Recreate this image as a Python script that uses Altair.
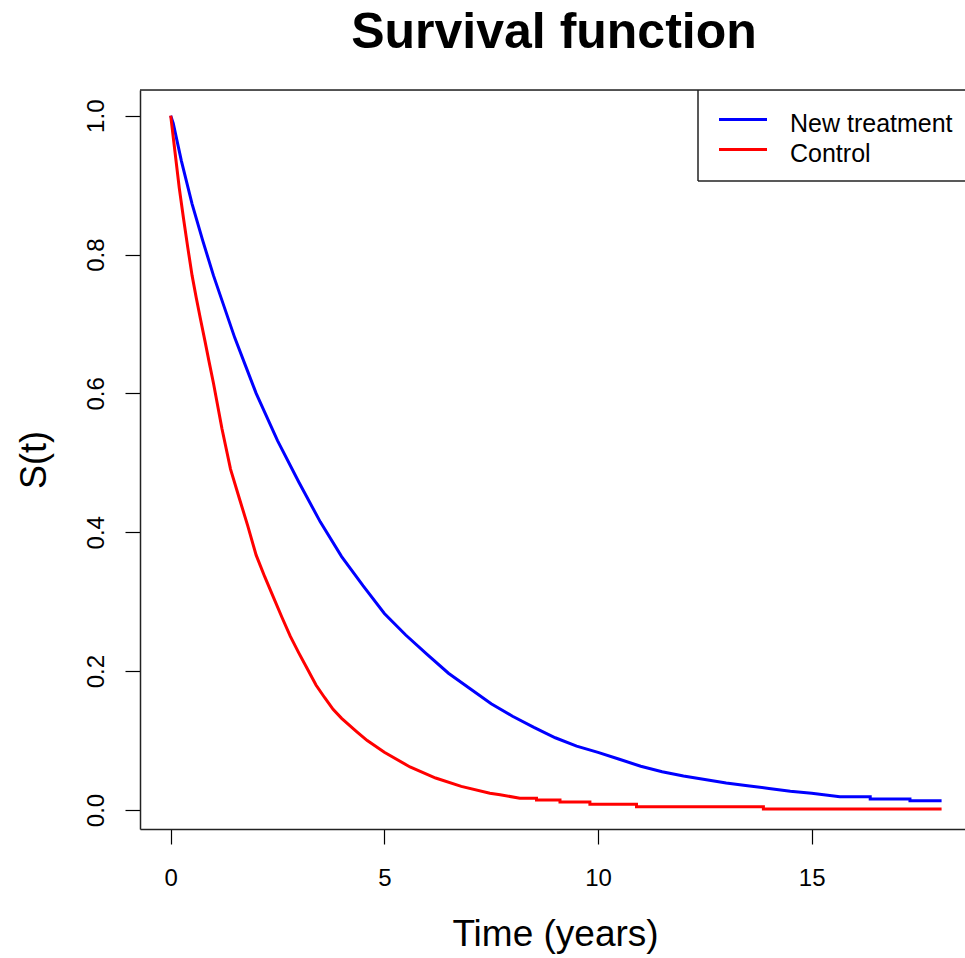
import altair as alt
import pandas as pd

# ---- data ----
series_names = ["New treatment", "Control"]
series_colors = ["#0000FF", "#FF0000"]
title_text = "Survival function"

t_new = [0, 0.06, 0.25, 0.5, 0.75, 1.0, 1.25, 1.5, 1.75, 2.0, 2.5, 3.0, 3.5, 4.0, 4.5,
         5.0, 5.5, 6.0, 6.5, 7.0, 7.5, 8.0, 8.5, 9.0, 9.5, 10.0, 10.5, 11.0, 11.5,
         12.0, 12.5, 13.0, 13.5, 14.0, 14.5, 15.0, 15.66, 16.37, 16.37, 17.3, 17.3, 18.04]
s_new = [1.0, 0.989, 0.935, 0.873, 0.82, 0.77, 0.725, 0.68, 0.64, 0.60, 0.532, 0.472, 0.415, 0.365, 0.323,
         0.283, 0.252, 0.224, 0.197, 0.175, 0.153, 0.135, 0.119, 0.104, 0.092, 0.083, 0.073, 0.063, 0.055,
         0.049, 0.044, 0.039, 0.035, 0.031, 0.027, 0.024, 0.019, 0.019, 0.0158, 0.0158, 0.0134, 0.0134]

t_ctl = [0, 0.1, 0.2, 0.3, 0.4, 0.5, 0.6, 0.7, 0.8, 0.9, 1.0, 1.2, 1.4, 1.6, 1.8, 2.0,
         2.2, 2.4, 2.6, 2.8, 3.0, 3.2, 3.4, 3.6, 3.8, 4.0, 4.35, 4.6, 5.0, 5.6, 6.2, 6.8,
         7.47, 7.71, 8.17, 8.56, 8.56, 9.11, 9.11, 9.81, 9.81, 10.9, 10.9, 13.87, 13.87, 18.04]
s_ctl = [1.0, 0.948, 0.896, 0.852, 0.81, 0.77, 0.737, 0.706, 0.676, 0.645, 0.615, 0.549, 0.491, 0.45, 0.41, 0.367,
         0.336, 0.307, 0.278, 0.25, 0.226, 0.203, 0.18, 0.162, 0.145, 0.132, 0.113, 0.10, 0.083, 0.062, 0.046, 0.034,
         0.024, 0.022, 0.0168, 0.0168, 0.0144, 0.0144, 0.0115, 0.0115, 0.0082, 0.0082, 0.0048, 0.0048, 0.0014, 0.0014]

x_ticks = [0, 5, 10, 15]
y_ticks = [0.0, 0.2, 0.4, 0.6, 0.8, 1.0]

rows = []
for name, ts, ss in [(series_names[0], t_new, s_new), (series_names[1], t_ctl, s_ctl)]:
    for i, (t, s) in enumerate(zip(ts, ss)):
        rows.append({"series": name, "t": t, "s": s, "i": i})
df = pd.DataFrame(rows)

# ---- layout ----
W, H = 825, 739
FONT = "Liberation Sans"
x_domain = [-0.7184, 18.588]
y_domain = [-0.0274, 1.037]
color_scale = alt.Scale(domain=series_names, range=series_colors)

lines = alt.Chart(df).mark_line(strokeWidth=3, clip=True).encode(
    x=alt.X("t:Q", scale=alt.Scale(domain=x_domain, nice=False, zero=False),
            axis=alt.Axis(values=x_ticks, title="Time (years)", grid=False,
                          tickSize=15, tickColor="black", tickWidth=1.2,
                          domainColor="#222222", domainWidth=1.5,
                          labelFont=FONT, labelFontSize=24, labelColor="black",
                          labelBaseline="alphabetic", labelPadding=41,
                          labelFlush=False, labelOverlap=False,
                          titleFont=FONT, titleFontSize=37, titleFontWeight="normal",
                          titleColor="black", titleX=415, titleY=116,
                          titleAlign="center", titleBaseline="alphabetic")),
    y=alt.Y("s:Q", scale=alt.Scale(domain=y_domain, nice=False, zero=False),
            axis=alt.Axis(values=y_ticks, format=".1f", title="S(t)", grid=False,
                          tickSize=15, tickColor="black", tickWidth=1.2,
                          domainColor="#222222", domainWidth=1.5,
                          labelFont=FONT, labelFontSize=24, labelColor="black",
                          labelAngle=270, labelAlign="center", labelBaseline="alphabetic",
                          labelPadding=22, labelFlush=False, labelOverlap=False,
                          titleFont=FONT, titleFontSize=36, titleFontWeight="normal",
                          titleColor="black", titleAngle=270, titleX=-95, titleY=369.5,
                          titleAlign="center", titleBaseline="alphabetic")),
    color=alt.Color("series:N", scale=color_scale, legend=None),
    order="i:Q",
)

one = pd.DataFrame({"k": [0]})
frame_top = alt.Chart(one).mark_rule(color="#222222", strokeWidth=1.5).encode(
    x=alt.value(0), x2=alt.value(W), y=alt.value(0))
leg_left = alt.Chart(one).mark_rule(color="#222222", strokeWidth=1.5).encode(
    x=alt.value(558), y=alt.value(0), y2=alt.value(91))
leg_bottom = alt.Chart(one).mark_rule(color="#222222", strokeWidth=1.5).encode(
    x=alt.value(558), x2=alt.value(W), y=alt.value(91))

# main title as a text mark placed above the plot frame
title_mark = alt.Chart(pd.DataFrame({"title": [title_text]})).mark_text(
    align="center", baseline="alphabetic", fontSize=50, fontWeight="bold",
    font=FONT, color="black").encode(
    x=alt.value(414), y=alt.value(-42), text="title:N")

layers = [lines, frame_top, leg_left, leg_bottom, title_mark]
for k, name in enumerate(series_names):
    d = pd.DataFrame({"series": [name]})
    layers.append(alt.Chart(d).mark_rule(strokeWidth=3).encode(
        x=alt.value(579), x2=alt.value(627), y=alt.value(29.5 + 30 * k),
        color=alt.Color("series:N", scale=color_scale, legend=None)))
    layers.append(alt.Chart(d).mark_text(align="left", baseline="alphabetic", fontSize=25,
                                         font=FONT, color="black").encode(
        x=alt.value(650), y=alt.value(41.7 + 30 * k), text="series:N"))

chart = alt.layer(*layers).properties(
    width=W, height=H,
    autosize=alt.AutoSizeParams(type="none"),
    padding={"left": 140, "top": 90, "right": 0, "bottom": 129},
).configure_view(strokeOpacity=0).configure(background="white")

chart.save("out.html", embed_options={"renderer": "svg", "actions": False})
